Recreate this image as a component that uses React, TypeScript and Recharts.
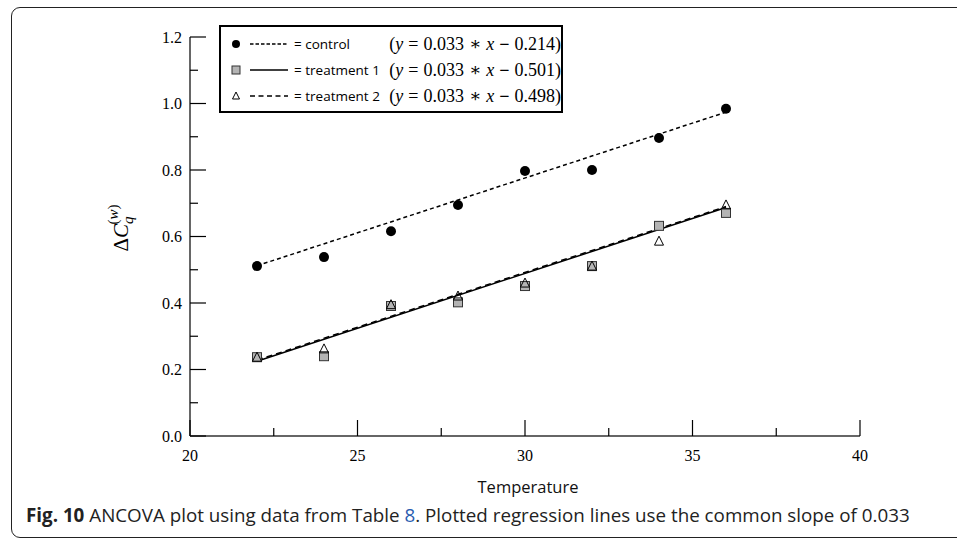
import React from 'react';
import { ComposedChart, XAxis, YAxis, Line, Scatter, Label } from 'recharts';

// ---- data ----
const temperatures = [22, 24, 26, 28, 30, 32, 34, 36];
const controlValues = [0.511, 0.538, 0.616, 0.695, 0.797, 0.8, 0.896, 0.984];
const treatment1Values = [0.237, 0.24, 0.391, 0.402, 0.451, 0.511, 0.632, 0.671];
const treatment2Values = [0.237, 0.262, 0.395, 0.421, 0.46, 0.511, 0.586, 0.695];

const fitX = [22, 36];
const controlFit = [0.512, 0.974];
const treatment1Fit = [0.225, 0.687];
const treatment2Fit = [0.228, 0.69];

const xTicks = [20, 22.5, 25, 27.5, 30, 32.5, 35, 37.5, 40];
const xMajor = [20, 25, 30, 35, 40];
const yTicks = [0, 0.1, 0.2, 0.3, 0.4, 0.5, 0.6, 0.7, 0.8, 0.9, 1.0, 1.1, 1.2];
const yMajor = [0, 0.2, 0.4, 0.6, 0.8, 1.0, 1.2];

const legendLabels = ['= control', '= treatment 1', '= treatment 2'];
const legendIntercepts = ['0.214', '0.501', '0.498'];
const legendSlope = '0.033';

const captionBold = 'Fig. 10';
const captionText1 = ' ANCOVA plot using data from Table ';
const captionLink = '8';
const captionText2 = '. Plotted regression lines use the common slope of 0.033';

const toPts = (xs: number[], ys: number[]) => xs.map((x, i) => ({ x, y: ys[i] }));
const controlPts = toPts(temperatures, controlValues);
const t1Pts = toPts(temperatures, treatment1Values);
const t2Pts = toPts(temperatures, treatment2Values);
const controlLine = toPts(fitX, controlFit);
const t1Line = toPts(fitX, treatment1Fit);
const t2Line = toPts(fitX, treatment2Fit);

const TICK_MARGIN_X = 13;
const TICK_MARGIN_Y = 8;
const serif = '"Liberation Serif", "DejaVu Serif", serif';
const sans = '"Open Sans", "Noto Sans", sans-serif';

const isMajor = (v: number, majors: number[]) => majors.some((m) => Math.abs(m - v) < 1e-6);

const XTick = (props: any) => {
  const { x, y, payload } = props;
  const v = payload.value;
  const major = isMajor(v, xMajor);
  const ay = y - TICK_MARGIN_X;
  return (
    <g>
      <line x1={x} x2={x} y1={ay} y2={ay - (major ? 16 : 8)} stroke="#000" strokeWidth={1.2} />
      {major && (
        <text x={x} y={y + 12} textAnchor="middle" fontFamily={serif} fontSize={16} fill="#000">
          {String(v)}
        </text>
      )}
    </g>
  );
};

const YTick = (props: any) => {
  const { x, y, payload } = props;
  const v = payload.value;
  const major = isMajor(v, yMajor);
  const ax = x + TICK_MARGIN_Y;
  return (
    <g>
      <line x1={ax} x2={ax + (major ? 16 : 8)} y1={y} y2={y} stroke="#000" strokeWidth={1.2} />
      {major && (
        <text x={x} y={y} dy="0.35em" textAnchor="end" fontFamily={serif} fontSize={16} fill="#000">
          {v.toFixed(1)}
        </text>
      )}
    </g>
  );
};

const Circle = (props: any) => {
  const { cx, cy } = props;
  return <circle cx={cx} cy={cy} r={5} fill="#000" />;
};
const Square = (props: any) => {
  const { cx, cy } = props;
  return <rect x={cx - 4.5} y={cy - 4.5} width={9} height={9} fill="#b4b4b4" stroke="#333" strokeWidth={1} />;
};
const Triangle = (props: any) => {
  const { cx, cy } = props;
  return (
    <path
      d={`M${cx},${cy - 5} L${cx + 4.5},${cy + 4} L${cx - 4.5},${cy + 4} Z`}
      fill="none"
      stroke="#000"
      strokeWidth={1}
    />
  );
};

const YLabel = () => {
  const cx = 128;
  const cy = 228;
  return (
    <text
      transform={`translate(${cx},${cy}) rotate(-90)`}
      textAnchor="middle"
      fontFamily={serif}
      fontSize={21}
      fill="#000"
    >
      <tspan>Δ</tspan>
      <tspan fontStyle="italic">C</tspan>
      <tspan fontStyle="italic" fontSize={15} dy={5}>q</tspan>
      <tspan fontSize={15} dx={-8} dy={-15}>(</tspan>
      <tspan fontSize={15} fontStyle="italic">w</tspan>
      <tspan fontSize={15}>)</tspan>
    </text>
  );
};

const legendMarkers = [
  (
    <svg width={60} height={14} key="m0">
      <circle cx={7} cy={7} r={4} fill="#000" />
      <line x1={21} x2={59} y1={7} y2={7} stroke="#000" strokeWidth={1.3} strokeDasharray="3.5 2" />
    </svg>
  ),
  (
    <svg width={60} height={14} key="m1">
      <rect x={3} y={3} width={8} height={8} fill="#b4b4b4" stroke="#333" strokeWidth={1} />
      <line x1={21} x2={59} y1={7} y2={7} stroke="#000" strokeWidth={1.3} />
    </svg>
  ),
  (
    <svg width={60} height={14} key="m2">
      <path d="M7,3 L10.5,10 L3.5,10 Z" fill="none" stroke="#000" strokeWidth={1} />
      <line x1={21} x2={59} y1={7} y2={7} stroke="#000" strokeWidth={1.3} strokeDasharray="5 3.5" />
    </svg>
  ),
];

export default function App() {
  return (
    <div style={{ position: 'absolute', left: 0, top: 0, width: 957, height: 540, background: '#fff', overflow: 'hidden' }}>
      <div
        style={{
          position: 'absolute',
          left: 11,
          top: 7,
          width: 960,
          height: 531,
          border: '1.5px solid #222',
          borderRadius: 9,
          boxSizing: 'border-box',
        }}
      />
      <ComposedChart
        width={957}
        height={540}
        margin={{ top: 37, right: 97, bottom: 44, left: 130 }}
        style={{ position: 'absolute', left: 0, top: 0 }}
      >
        <XAxis
          type="number"
          dataKey="x"
          domain={[20, 40]}
          ticks={xTicks}
          interval={0}
          height={60}
          tickSize={0}
          tickMargin={TICK_MARGIN_X}
          tick={<XTick />}
          axisLine={{ stroke: '#333', strokeWidth: 1.5 }}
          allowDecimals
        >
          <Label
            content={() => (
              <text x={528} y={493} textAnchor="middle" fontFamily={sans} fontSize={16.5} fill="#111">
                Temperature
              </text>
            )}
          />
        </XAxis>
        <YAxis
          type="number"
          dataKey="y"
          domain={[0, 1.2]}
          ticks={yTicks}
          interval={0}
          width={60}
          tickSize={0}
          tickMargin={TICK_MARGIN_Y}
          tick={<YTick />}
          axisLine={{ stroke: '#333', strokeWidth: 1.5 }}
        >
          <Label content={() => <YLabel />} />
        </YAxis>
        <Line data={controlLine} dataKey="y" stroke="#000" strokeWidth={1.5} strokeDasharray="4 3" dot={false} isAnimationActive={false} />
        <Line data={t1Line} dataKey="y" stroke="#000" strokeWidth={1.5} dot={false} isAnimationActive={false} />
        <Line data={t2Line} dataKey="y" stroke="#000" strokeWidth={1.5} strokeDasharray="6 4" dot={false} isAnimationActive={false} />
        <Scatter data={controlPts} dataKey="y" shape={<Circle />} isAnimationActive={false} />
        <Scatter data={t1Pts} dataKey="y" shape={<Square />} isAnimationActive={false} />
        <Scatter data={t2Pts} dataKey="y" shape={<Triangle />} isAnimationActive={false} />
      </ComposedChart>

      {/* legend */}
      <div
        style={{
          position: 'absolute',
          left: 219,
          top: 25,
          width: 344,
          height: 88,
          border: '2px solid #000',
          boxSizing: 'border-box',
          background: '#fff',
        }}
      >
        {legendLabels.map((lab, i) => (
          <div
            key={lab}
            style={{ position: 'absolute', left: 8, top: 7 + i * 26, height: 20, width: 332, display: 'flex', alignItems: 'center' }}
          >
            {legendMarkers[i]}
            <span style={{ fontFamily: sans, fontSize: 13.5, marginLeft: 5, color: '#000', whiteSpace: 'nowrap' }}>{lab}</span>
            <span
              style={{
                position: 'absolute',
                right: 0,
                fontFamily: serif,
                fontSize: 18,
                color: '#000',
                whiteSpace: 'nowrap',
                wordSpacing: 0.5,
              }}
            >
              (<i>y</i> = {legendSlope} ∗ <i>x</i> <b>−</b> {legendIntercepts[i]})
            </span>
          </div>
        ))}
      </div>

      {/* caption */}
      <div
        style={{
          position: 'absolute',
          left: 26,
          top: 502,
          fontFamily: sans,
          fontSize: 18.8,
          color: '#222',
          whiteSpace: 'nowrap',
          lineHeight: 'normal',
        }}
      >
        <b>{captionBold}</b>
        {captionText1}
        <span style={{ color: '#2a5db0' }}>{captionLink}</span>
        {captionText2}
      </div>
    </div>
  );
}
